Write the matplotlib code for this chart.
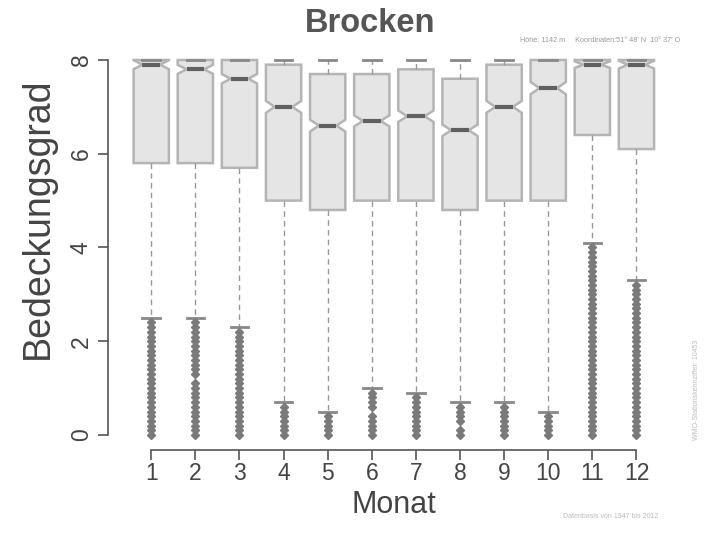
import matplotlib.pyplot as plt
import numpy as np

plt.rcParams['font.family'] = ['Liberation Sans', 'DejaVu Sans']

# monthly cloud cover (Bedeckungsgrad, octas) at Brocken
months = [1, 2, 3, 4, 5, 6, 7, 8, 9, 10, 11, 12]
med = [7.9, 7.8, 7.6, 7.0, 6.6, 6.7, 6.8, 6.5, 7.0, 7.4, 7.9, 7.9]
q1 = [5.8, 5.8, 5.7, 5.0, 4.8, 5.0, 5.0, 4.8, 5.0, 5.0, 6.4, 6.1]
q3 = [8.0, 8.0, 8.0, 7.9, 7.7, 7.7, 7.8, 7.6, 7.9, 8.0, 8.0, 8.0]
whis_lo = [2.5, 2.5, 2.3, 0.7, 0.5, 1.0, 0.9, 0.7, 0.7, 0.5, 4.1, 3.3]
whis_hi = [8.0, 8.0, 8.0, 8.0, 8.0, 8.0, 8.0, 8.0, 8.0, 8.0, 8.0, 8.0]
n_days = 1300  # approx. observations per month

# outliers, in tenths of octas
fliers_tenths = [
    [0, 1, 2, 3, 4, 5, 6, 7, 8, 9, 10, 11, 12, 13, 14, 15, 16, 17, 18, 19, 20, 21, 22, 23, 24],
    [0, 1, 2, 3, 4, 5, 6, 7, 8, 9, 10, 11, 13, 14, 15, 16, 17, 18, 19, 20, 21, 22, 23, 24],
    [0, 1, 2, 3, 4, 5, 6, 7, 8, 9, 10, 11, 12, 13, 14, 15, 16, 17, 18, 19, 20, 21, 22],
    [0, 1, 2, 3, 4, 5, 6],
    [0, 1, 2, 3, 4],
    [0, 1, 2, 3, 4, 6, 7, 8, 9],
    [0, 1, 2, 3, 4, 5, 6, 7, 8],
    [0, 1, 3, 4, 5, 6],
    [0, 1, 2, 3, 4, 5, 6],
    [0, 1, 2, 3, 4],
    [0, 1, 2, 3, 4, 5, 6, 7, 8, 9, 10, 11, 12, 13, 14, 15, 16, 17, 18, 19, 20,
     21, 22, 23, 24, 25, 26, 27, 28, 29, 30, 31, 32, 33, 34, 35, 36, 37, 38, 39, 40],
    [0, 1, 2, 3, 4, 5, 6, 7, 8, 9, 10, 11, 12, 13, 14, 15, 16, 17, 18, 19, 20,
     21, 22, 23, 24, 25, 26, 27, 28, 29, 30, 31, 32],
]

stats = []
for i in range(len(months)):
    ci = 1.58 * (q3[i] - q1[i]) / np.sqrt(n_days)
    stats.append(dict(med=med[i], q1=q1[i], q3=q3[i],
                      whislo=whis_lo[i], whishi=whis_hi[i],
                      cilo=med[i] - ci, cihi=med[i] + ci,
                      fliers=np.array(fliers_tenths[i]) / 10.0))

fig = plt.figure(figsize=(7.2, 5.4), dpi=100)
ax = fig.add_axes([0.15, 0.1667, 0.794, 0.75])

ax.bxp(stats, positions=months, widths=0.8, shownotches=True, patch_artist=True,
       boxprops=dict(facecolor='#e5e5e5', edgecolor='#b4b4b4', linewidth=1.8),
       medianprops=dict(color='#606060', linewidth=3),
       whiskerprops=dict(color='#999999', linewidth=1, linestyle=(0, (4, 3))),
       capprops=dict(color='#888888', linewidth=2),
       flierprops=dict(marker='D', markerfacecolor='#7a7a7a', markeredgecolor='#7a7a7a',
                       markersize=4.5, linestyle='none'))

ax.set_xlim(0.02, 12.98)
ax.set_ylim(-0.32, 8.32)
for s in ['top', 'right']:
    ax.spines[s].set_visible(False)
ax.spines['left'].set_bounds(0, 8)
ax.spines['bottom'].set_bounds(1, 12)
for s in ['left', 'bottom']:
    ax.spines[s].set_color('#555555')
    ax.spines[s].set_linewidth(1.2)

ax.set_xticks(months)
ax.set_xticklabels([str(m) for m in months])
ax.set_yticks([0, 2, 4, 6, 8])
ax.tick_params(axis='both', colors='#555555', labelsize=16.5, length=7, width=1.2,
               labelcolor='#444444')
ax.tick_params(axis='y', pad=4)
ax.tick_params(axis='x', pad=1.5)
plt.setp(ax.get_yticklabels(), rotation=90, va='center')

ax.set_xlabel('Monat', fontsize=22, color='#444444', labelpad=4)
ax.set_ylabel('Bedeckungsgrad', fontsize=27, color='#444444')
ax.yaxis.set_label_coords(-0.092, 0.573)

fig.text(0.514, 0.957, 'Brocken', fontsize=23.5, fontweight='bold', color='#555555',
         ha='center', va='center')
fig.text(0.722, 0.925, "Höhe: 1142 m     Koordinaten:51° 48' N  10° 37' O",
         fontsize=5.2, color='#999999', ha='left', va='center')
fig.text(0.968, 0.278, 'WMO-Stationskennziffer: 10453', fontsize=5, color='#bbbbbb',
         rotation=90, ha='center', va='center')
fig.text(0.782, 0.044, 'Datenbasis von 1947 bis 2012', fontsize=5, color='#bbbbbb',
         ha='left', va='center')

plt.savefig('out.png', dpi=100)
